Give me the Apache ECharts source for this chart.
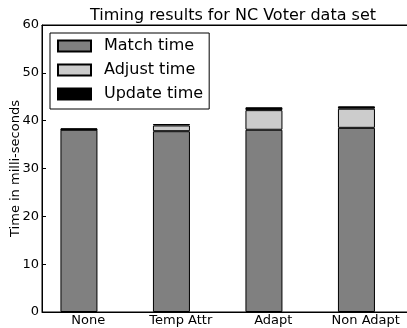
<!DOCTYPE html>
<html><head><meta charset="utf-8">
<script src="https://cdn.jsdelivr.net/npm/echarts@6/dist/echarts.min.js"></script>
<style>html,body{margin:0;padding:0;background:#fff}#c{width:407px;height:328px}</style>
</head><body><div id="c"></div>
<script>
const categories = ["None", "Temp Attr", "Adapt", "Non Adapt"];
const matchTime = [38.1, 37.8, 38.1, 38.5];
const adjustTime = [0.05, 1.2, 4.1, 4.0];
const updateTime = [0.25, 0.3, 0.6, 0.5];
const yTicks = [0, 10, 20, 30, 40, 50, 60];

const font = "DejaVu Sans";
const chart = echarts.init(document.getElementById('c'), null, {renderer: 'canvas'});
const barStyle = color => ({color: color, borderColor: '#000', borderWidth: 1});
const bar = (name, data, color) => ({name: name, type: 'bar', stack: 't', barWidth: 37, barGap: '0%',
  data: data, itemStyle: barStyle(color)});
chart.setOption({
  animation: false,
  title: {text: "Timing results for NC Voter data set", left: 228, textAlign: 'center', top: 3,
    textStyle: {fontFamily: font, fontSize: 16, fontWeight: 'normal', color: '#000'}},
  legend: {left: 50, top: 33, orient: 'vertical', itemWidth: 33, itemHeight: 11, itemGap: 8, icon: 'rect',
    borderColor: '#000', borderWidth: 1, padding: [5, 6, 7, 7],
    textStyle: {fontFamily: font, fontSize: 16, color: '#000', lineHeight: 15, padding: [0, 0, 0, 8]},
    data: ["Match time", "Adjust time", "Update time"]},
  grid: {left: 42, right: -5, top: 25, bottom: 16, outerBoundsMode: 'none', containLabel: false,
    show: true, borderColor: '#000', borderWidth: 1, backgroundColor: 'transparent'},
  xAxis: [
    {type: 'category', data: categories, position: 'bottom', boundaryGap: true,
      axisLine: {lineStyle: {color: '#000'}},
      axisTick: {alignWithLabel: true, inside: true, length: 4, lineStyle: {color: '#000'}},
      axisLabel: {fontFamily: font, fontSize: 13, color: '#000', margin: 2}},
    {type: 'category', data: categories, position: 'top', boundaryGap: true,
      axisLine: {lineStyle: {color: '#000'}},
      axisTick: {alignWithLabel: true, inside: true, length: 4, lineStyle: {color: '#000'}},
      axisLabel: {show: false}}
  ],
  yAxis: {type: 'value', min: yTicks[0], max: yTicks[yTicks.length - 1], interval: 10,
    name: "Time in milli-seconds", nameLocation: 'middle', nameGap: 20, nameMoveOverlap: false,
    nameTextStyle: {fontFamily: font, fontSize: 13, color: '#000'},
    axisLine: {show: true, lineStyle: {color: '#000'}},
    axisTick: {show: true, inside: true, length: 4, lineStyle: {color: '#000'}},
    axisLabel: {fontFamily: font, fontSize: 13, color: '#000', margin: 3},
    splitLine: {show: false}},
  series: [
    bar("Match time", matchTime, '#808080'),
    bar("Adjust time", adjustTime, '#cccccc'),
    bar("Update time", updateTime, '#000000'),
    {name: "spacer", type: 'bar', barWidth: 18.6, barGap: '0%', silent: true,
      data: categories.map(() => 0), itemStyle: {color: 'transparent', borderWidth: 0}}
  ]
});
</script></body></html>
